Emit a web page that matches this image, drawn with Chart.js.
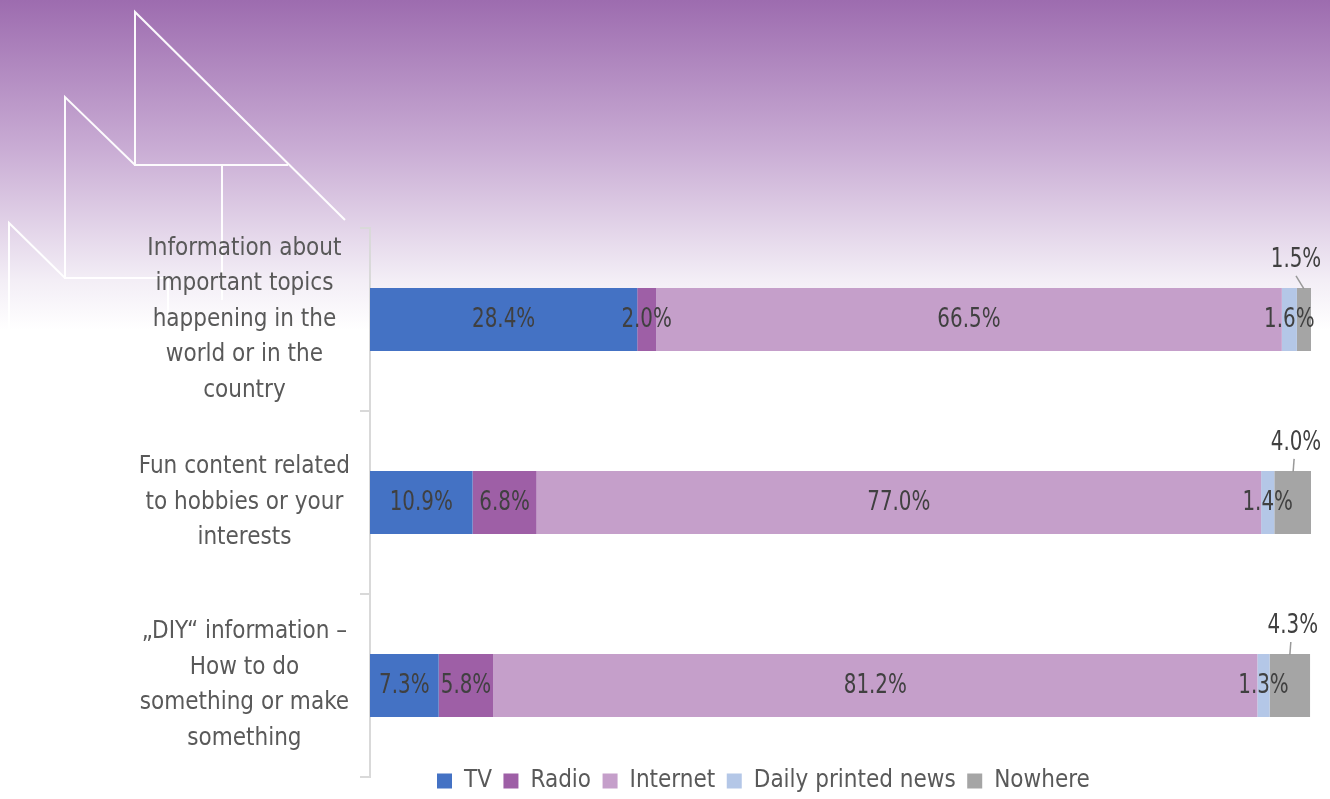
<!DOCTYPE html>
<html>
<head>
<meta charset="utf-8">
<script src="https://cdn.jsdelivr.net/npm/chart.js@4/dist/chart.umd.min.js"></script>
<style>
  html, body { margin: 0; padding: 0; background: #ffffff; }
  #wrap { width: 1330px; height: 799px; position: relative; }
</style>
</head>
<body>
<div id="wrap"><canvas id="myChart" width="1330" height="799"></canvas></div>
<script>
const categories = [
  ["Information about", "important topics", "happening in the", "world or in the", "country"],
  ["Fun content related", "to hobbies or your", "interests"],
  ["\u201EDIY\u201C information \u2013", "How to do", "something or make", "something"]
];
const seriesNames = ["TV", "Radio", "Internet", "Daily printed news", "Nowhere"];
const tv = [28.4, 10.9, 7.3];
const radio = [2.0, 6.8, 5.8];
const internet = [66.5, 77.0, 81.2];
const dailyNews = [1.6, 1.4, 1.3];
const nowhere = [1.5, 4.0, 4.3];
const colors = ["#4472C4", "#9E5FA6", "#C59FCA", "#B4C7E7", "#A5A5A5"];

const FONT = "'Liberation Sans Narrow', 'DejaVu Sans Condensed', 'Arial Narrow', sans-serif";

// purple fade + white line decoration behind the chart
const backdrop = {
  id: "backdrop",
  beforeDraw(chart) {
    const c = chart.ctx;
    c.save();
    const g = c.createLinearGradient(0, 0, 0, 330);
    g.addColorStop(0, "#9d6caf");
    g.addColorStop(0.45, "#c9acd4");
    g.addColorStop(0.85, "#f3eef6");
    g.addColorStop(1, "#ffffff");
    c.fillStyle = g;
    c.fillRect(0, 0, chart.width, 330);
    c.fillStyle = "#ffffff";
    c.fillRect(0, 330, chart.width, chart.height - 330);
    c.strokeStyle = "rgba(255,255,255,0.95)";
    c.lineWidth = 2;
    c.beginPath();
    c.moveTo(345, 220); c.lineTo(135, 12); c.lineTo(135, 165); c.lineTo(288, 165);
    c.moveTo(222, 165); c.lineTo(222, 300);
    c.moveTo(135, 165); c.lineTo(65, 97); c.lineTo(65, 278); c.lineTo(168, 278);
    c.moveTo(168, 278); c.lineTo(168, 330);
    c.moveTo(65, 278); c.lineTo(9, 223); c.lineTo(9, 330);
    c.stroke();
    c.restore();
  }
};

// value labels; the last series goes above the bar with a leader line
const valueLabels = {
  id: "valueLabels",
  afterDatasetsDraw(chart) {
    const c = chart.ctx;
    const sx = 0.85;
    const put = (txt, x, y) => {
      c.save();
      c.translate(x, y);
      c.scale(sx, 1);
      c.fillText(txt, 0, 0);
      c.restore();
    };
    c.save();
    c.font = "26px " + FONT;
    c.fillStyle = "#404040";
    c.textAlign = "center";
    c.textBaseline = "middle";
    chart.data.datasets.forEach((ds, di) => {
      const meta = chart.getDatasetMeta(di);
      meta.data.forEach((bar, i) => {
        const txt = ds.data[i].toFixed(1) + "%";
        const cx = (bar.x + bar.base) / 2;
        if (di === chart.data.datasets.length - 1) {
          const top = bar.y - bar.height / 2;
          put(txt, Math.min(cx + 3, chart.chartArea.right - 15), top - 28);
          c.strokeStyle = "#999999";
          c.lineWidth = 1.5;
          c.beginPath();
          c.moveTo(Math.min(cx + 1, chart.chartArea.right - 15), top - 12);
          c.lineTo(cx, top + 1);
          c.stroke();
        } else {
          put(txt, cx, bar.y + 1);
        }
      });
    });
    c.restore();
  }
};

// place the legend like the original: low, starting under the bars
const legendPlace = {
  id: "legendPlace",
  afterInit(chart) {
    const lg = chart.legend;
    const fit = lg.fit.bind(lg);
    lg.fit = function () { fit(); this.height = 22; };
  },
  afterLayout(chart) {
    const lg = chart.legend;
    lg.left = 437 - 11.5;
    lg.top = 781 - 11.5 - 12;
    lg.bottom = 799;
  }
};

const datasets = [tv, radio, internet, dailyNews, nowhere].map((vals, k) => ({
  label: seriesNames[k],
  data: vals,
  backgroundColor: colors[k],
  borderWidth: 0,
  categoryPercentage: 1,
  barPercentage: 0.345
}));

const ctx = document.getElementById("myChart").getContext("2d");
const myChart = new Chart(ctx, {
  type: "bar",
  data: { labels: categories, datasets: datasets },
  options: {
    indexAxis: "y",
    responsive: false,
    animation: false,
    layout: { padding: { top: 228, right: 19, bottom: 0, left: 0 } },
    scales: {
      x: { stacked: true, display: false, min: 0, max: 100 },
      y: {
        stacked: true,
        afterFit(scale) {
          scale.width = 370;
          scale.paddingTop = 0;
          scale.paddingBottom = 0;
        },
        border: { color: "#d9d9d9", width: 2 },
        grid: { offset: true, drawOnChartArea: false, tickLength: 10, color: "#d9d9d9", lineWidth: 2 },
        ticks: {
          crossAlign: "center",
          padding: 10,
          color: "#595959",
          font: { family: FONT, size: 24, lineHeight: 1.48 }
        }
      }
    },
    plugins: {
      legend: {
        position: "bottom",
        align: "start",
        labels: {
          boxWidth: 15,
          boxHeight: 15,
          padding: 11.5,
          color: "#595959",
          font: { family: FONT, size: 24 }
        }
      },
      tooltip: { enabled: false }
    }
  },
  plugins: [backdrop, valueLabels, legendPlace]
});
</script>
</body>
</html>
